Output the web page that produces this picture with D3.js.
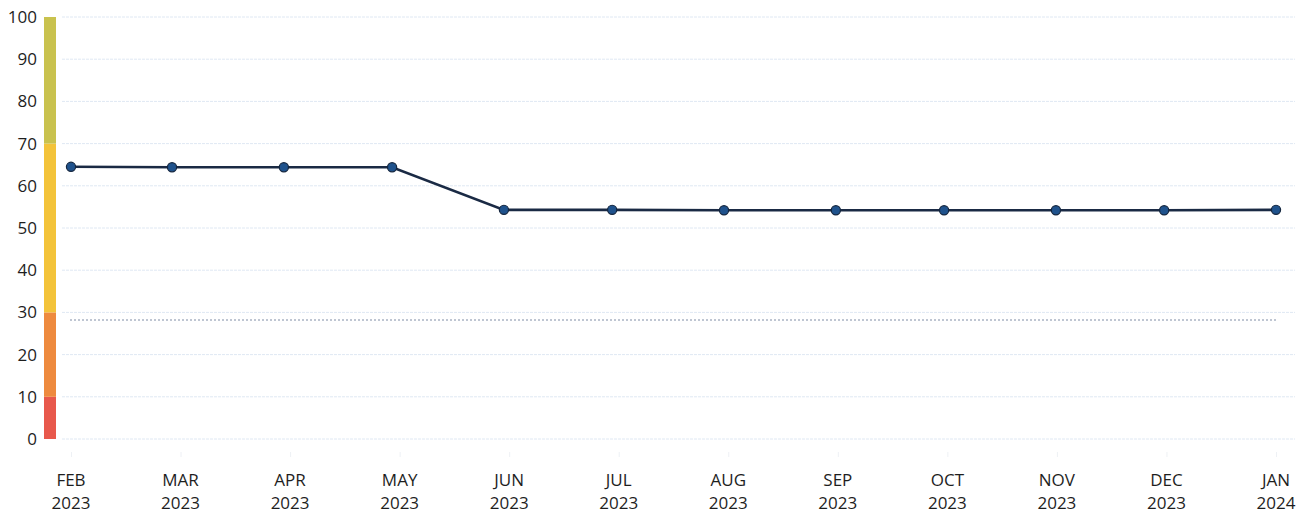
<!DOCTYPE html>
<html><head><meta charset="utf-8">
<script src="https://cdn.jsdelivr.net/npm/d3@7"></script>
<style>body{margin:0;background:#fff;}svg{display:block;font-family:"Open Sans",sans-serif;}</style>
</head><body><svg id="c" width="1313" height="514"></svg>
<script>
const months = ["FEB","MAR","APR","MAY","JUN","JUL","AUG","SEP","OCT","NOV","DEC","JAN"];
const years = ["2023","2023","2023","2023","2023","2023","2023","2023","2023","2023","2023","2024"];
const dates = ["2023-02-01","2023-03-01","2023-04-01","2023-05-01","2023-06-01","2023-07-01","2023-08-01","2023-09-01","2023-10-01","2023-11-01","2023-12-01","2024-01-01"];
const values = [64.5,64.4,64.4,64.4,54.3,54.3,54.2,54.2,54.2,54.2,54.2,54.3];
const yTicks = [0,10,20,30,40,50,60,70,80,90,100];
const bandStarts = [0,10,30,70];
const bandEnds = [10,30,70,100];
const bandColors = ["#e8584c","#ee8a3e","#f3c33a","#c9c24e"];
const thresholdValue = 28.2;

const parsed = dates.map(d=>new Date(d+"T00:00:00Z"));
const svg = d3.select("#c");
const xt = d3.scaleUtc().domain([parsed[0],parsed[parsed.length-1]]).range([71,1276]);
const xl = d3.scalePoint().domain(d3.range(months.length)).range([71,1276]);
const y = d3.scaleLinear().domain([0,100]).range([439,17]);

// gridlines
svg.append("g").selectAll("line").data(yTicks).join("line")
  .attr("x1",62).attr("x2",1295).attr("y1",d=>y(d)).attr("y2",d=>y(d))
  .attr("stroke","#dfe8f3").attr("stroke-width",1).attr("stroke-dasharray","3,1");

// y axis labels
const ya = svg.append("g").attr("transform","translate(37,0)")
  .call(d3.axisLeft(y).tickValues(yTicks).tickSize(0).tickPadding(0));
ya.select(".domain").remove();
ya.selectAll("text").attr("font-size",17).attr("fill","#1e1e1e").attr("font-family","Open Sans, sans-serif");

// color band
svg.append("g").selectAll("rect").data(bandStarts).join("rect")
  .attr("x",44).attr("width",12)
  .attr("y",(d,i)=>y(bandEnds[i])).attr("height",(d,i)=>y(d)-y(bandEnds[i]))
  .attr("fill",(d,i)=>bandColors[i]);

// threshold dotted line
svg.append("line").attr("x1",70).attr("x2",1278)
  .attr("y1",y(thresholdValue)).attr("y2",y(thresholdValue))
  .attr("stroke","#aab4c3").attr("stroke-width",1.5).attr("stroke-dasharray","2,2");

// x axis ticks + labels
const xa = svg.append("g").attr("transform","translate(0,452)")
  .call(d3.axisBottom(xl).tickSize(5).tickFormat(()=>""));
xa.select(".domain").remove();
xa.selectAll("line").attr("stroke","#eef1f5");
const lab = svg.append("g").selectAll("text").data(months).join("text")
  .attr("text-anchor","middle").attr("font-size",17).attr("fill","#1e1e1e");
lab.append("tspan").attr("x",(d,i)=>xl(i)).attr("y",486).text(d=>d);
lab.append("tspan").attr("x",(d,i)=>xl(i)).attr("y",509).text((d,i)=>years[i]);

// line
svg.append("path").datum(values)
  .attr("d",d3.line().x((d,i)=>xt(parsed[i])).y(d=>y(d)))
  .attr("fill","none").attr("stroke","#1a2a44").attr("stroke-width",2.6);

svg.append("g").selectAll("circle").data(values).join("circle")
  .attr("cx",(d,i)=>xt(parsed[i])).attr("cy",d=>y(d)).attr("r",4.6)
  .attr("fill","#1f528c").attr("stroke","#14263f").attr("stroke-width",1.2);
</script></body></html>
